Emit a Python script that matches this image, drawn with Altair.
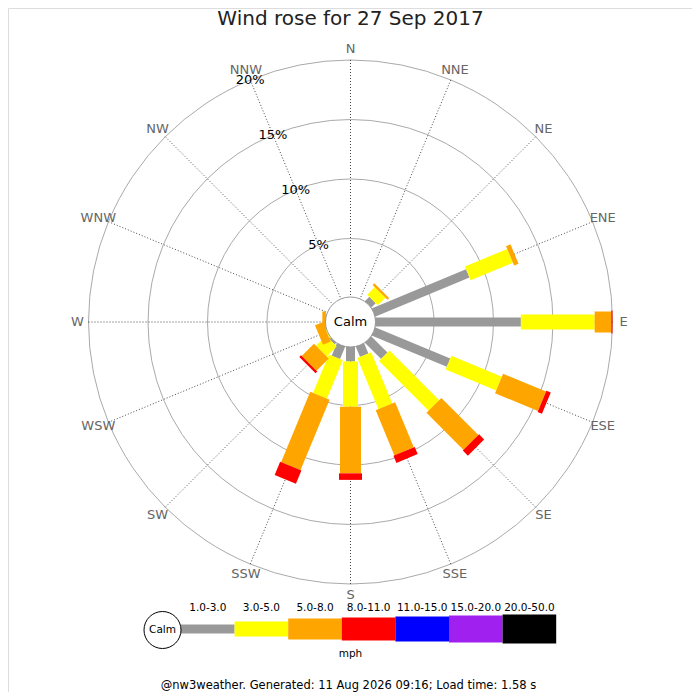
import math

import altair as alt
import pandas as pd


DIRECTIONS = ["N", "NNE", "NE", "ENE", "E", "ESE", "SE", "SSE", "S", "SSW", "SW", "WSW", "W", "WNW", "NW", "NNW"]
SPEED_BANDS = ["1.0-3.0", "3.0-5.0", "5.0-8.0", "8.0-11.0", "11.0-15.0", "15.0-20.0", "20.0-50.0"]

# share of the day (%) blowing from each direction, per speed band (mph)
PCT_1_3 = [0, 0, 0.6, 8.65, 12.3, 6.9, 2.0, 1.0, 1.3, 1.2, 0.25, 0, 0, 0, 0, 0]
PCT_3_5 = [0, 0, 0.9, 3.85, 6.2, 4.6, 5.9, 4.65, 3.8, 3.5, 1.2, 0.15, 0.05, 0, 0, 0]
PCT_5_8 = [0, 0, 0.2, 0.4, 1.4, 3.9, 4.4, 4.1, 5.6, 6.4, 1.45, 0.7, 0.3, 0, 0, 0]
PCT_8_11 = [0, 0, 0, 0, 0.1, 0.4, 0.6, 0.65, 0.55, 1.2, 0.2, 0, 0, 0, 0, 0]
PCT_11_15 = [0, 0, 0, 0, 0, 0, 0, 0, 0, 0, 0, 0, 0, 0, 0, 0]
PCT_15_20 = [0, 0, 0, 0, 0, 0, 0, 0, 0, 0, 0, 0, 0, 0, 0, 0]
PCT_20_50 = [0, 0, 0, 0, 0, 0, 0, 0, 0, 0, 0, 0, 0, 0, 0, 0]
BAND_VALUES = [PCT_1_3, PCT_3_5, PCT_5_8, PCT_8_11, PCT_11_15, PCT_15_20, PCT_20_50]

RINGS = [5, 10, 15, 20]
RING_LABELS = ["5%", "10%", "15%", "20%"]

TITLE = "Wind rose for 27 Sep 2017"
FOOTER = "@nw3weather. Generated: 11 Aug 2026 09:16; Load time: 1.58 s"

BAND_COLORS = ["#999999", "#ffff00", "#ffa500", "#ff0000", "#0000ff", "#a020f0", "#000000"]
BAND_WIDTHS = dict(zip(SPEED_BANDS, [9, 15, 21, 23, 25, 27, 29]))
FONT = "DejaVu Sans"

# layout: one percent of frequency is PX px of radius, the calm disc sits in the middle
PX = 11.9
CALM = 24 / PX
SIZE = 684
CX, CY = 350.5 - 8, 322 - 8


def px_x(v):
    return (v - 8 - CX) / PX


def px_y(v):
    return (CY - (v - 8)) / PX


def polar(r, angle):
    a = math.radians(angle)
    return r * math.sin(a), r * math.cos(a)


segments = []
for i, direction in enumerate(DIRECTIONS):
    total = 0.0
    for band, values in zip(SPEED_BANDS, BAND_VALUES):
        if values[i] <= 0:
            continue
        x, y = polar(CALM + total, 22.5 * i)
        total += values[i]
        x2, y2 = polar(CALM + total, 22.5 * i)
        segments.append({"direction": direction, "band": band, "pct": values[i], "x": x, "y": y, "x2": x2, "y2": y2})
segments = pd.DataFrame(segments)
segments["w"] = segments["band"].map(BAND_WIDTHS)

spokes = []
labels = []
for i, direction in enumerate(DIRECTIONS):
    x, y = polar(CALM, 22.5 * i)
    x2, y2 = polar(CALM + RINGS[-1], 22.5 * i)
    spokes.append({"x": x, "y": y, "x2": x2, "y2": y2})
    lx, ly = polar(273 / PX, 22.5 * i)
    labels.append({"text": direction, "x": lx, "y": ly})
spokes = pd.DataFrame(spokes)
labels = pd.DataFrame(labels)

rings = pd.DataFrame({"r": [CALM + p for p in RINGS], "x": 0.0, "y": 0.0})
ring_text = pd.DataFrame(
    [dict(zip(("x", "y"), polar(CALM + p, 337.5)), text=t) for p, t in zip(RINGS, RING_LABELS)]
)

step = 53.6 / PX
legend = pd.DataFrame(
    {
        "band": SPEED_BANDS,
        "x": [px_x(181) + k * step for k in range(len(SPEED_BANDS))],
        "x2": [px_x(181) + (k + 1) * step for k in range(len(SPEED_BANDS))],
        "y": px_y(629),
        "ty": px_y(607.5),
    }
)
legend["tx"] = (legend["x"] + legend["x2"]) / 2
legend["w"] = legend["band"].map(BAND_WIDTHS)

x_scale = alt.Scale(domain=[-CX / PX, (SIZE - CX) / PX], nice=False, zero=False)
y_scale = alt.Scale(domain=[(CY - SIZE) / PX, CY / PX], nice=False, zero=False)
X = alt.X("x:Q", scale=x_scale, axis=None)
Y = alt.Y("y:Q", scale=y_scale, axis=None)
size_scale = alt.Scale(type="pow", exponent=2, domain=[0, 30], range=[0, (60 * PX) ** 2], zero=True, nice=False)
band_color = alt.Color("band:N", scale=alt.Scale(domain=SPEED_BANDS, range=BAND_COLORS), legend=None)
band_width = alt.StrokeWidth("w:Q", scale=None, legend=None)

ring_layer = alt.Chart(rings).mark_point(shape="circle", filled=False, stroke="#aaaaaa", strokeWidth=1, opacity=1).encode(
    x=X, y=Y, size=alt.Size("r:Q", scale=size_scale, legend=None)
)
spoke_layer = alt.Chart(spokes).mark_rule(color="#333333", strokeWidth=0.9, strokeDash=[1, 2]).encode(
    x=X, y=Y, x2="x2:Q", y2="y2:Q"
)
bar_layer = alt.Chart(segments).mark_rule(strokeCap="butt").encode(
    x=X, y=Y, x2="x2:Q", y2="y2:Q", color=band_color, strokeWidth=band_width,
    tooltip=["direction:N", "band:N", alt.Tooltip("pct:Q", format=".2f")],
)
calm_layer = alt.Chart(pd.DataFrame({"r": [25 / PX], "x": [0.0], "y": [0.0]})).mark_point(
    shape="circle", filled=True, fill="white", stroke="#999999", strokeWidth=1, opacity=1
).encode(x=X, y=Y, size=alt.Size("r:Q", scale=size_scale, legend=None))
calm_text = alt.Chart(pd.DataFrame({"x": [0.0], "y": [0.0], "text": ["Calm"]})).mark_text(
    font=FONT, fontSize=13, color="#000000", baseline="middle"
).encode(x=X, y=Y, text="text:N")
dir_layer = alt.Chart(labels).mark_text(font=FONT, fontSize=13, color="#666666", baseline="middle").encode(
    x=X, y=Y, text="text:N"
)
pct_layer = alt.Chart(ring_text).mark_text(font=FONT, fontSize=13, color="#000000", baseline="middle").encode(
    x=X, y=Y, text="text:N"
)

legend_bars = alt.Chart(legend).mark_rule(strokeCap="butt").encode(
    x=X, y=Y, x2="x2:Q", y2="y:Q", color=band_color, strokeWidth=band_width
)
legend_text = alt.Chart(legend).mark_text(font=FONT, fontSize=10.5, color="#000000", baseline="middle").encode(
    x=alt.X("tx:Q", scale=x_scale, axis=None), y=alt.Y("ty:Q", scale=y_scale, axis=None), text="band:N"
)
legend_calm = alt.Chart(pd.DataFrame({"r": [18.5 / PX], "x": [px_x(162.5)], "y": [px_y(630)]})).mark_point(
    shape="circle", filled=True, fill="white", stroke="#000000", strokeWidth=1, opacity=1
).encode(x=X, y=Y, size=alt.Size("r:Q", scale=size_scale, legend=None))
legend_calm_text = alt.Chart(pd.DataFrame({"x": [px_x(162.5)], "y": [px_y(630)], "text": ["Calm"]})).mark_text(
    font=FONT, fontSize=10.5, color="#000000", baseline="middle"
).encode(x=X, y=Y, text="text:N")
unit_text = alt.Chart(pd.DataFrame({"x": [px_x(350.5)], "y": [px_y(653.5)], "text": ["mph"]})).mark_text(
    font=FONT, fontSize=10.5, color="#000000", baseline="middle"
).encode(x=X, y=Y, text="text:N")

title_layer = alt.Chart(pd.DataFrame({"text": [TITLE]})).mark_text(
    font=FONT, fontSize=20, color="#222222", baseline="alphabetic"
).encode(x=alt.value(CX), y=alt.value(17), text="text:N")
footer_layer = alt.Chart(pd.DataFrame({"text": [FOOTER]})).mark_text(
    font=FONT, fontSize=11.5, color="#000000", baseline="alphabetic"
).encode(x=alt.value(CX - 2), y=alt.value(681), text="text:N")

chart = (
    alt.layer(
        ring_layer, spoke_layer, bar_layer, calm_layer, calm_text, dir_layer, pct_layer,
        legend_bars, legend_calm, legend_calm_text, legend_text, unit_text, title_layer, footer_layer,
    )
    .properties(width=SIZE, height=SIZE, autosize=alt.AutoSizeParams(type="none"), padding=0)
    .configure_view(stroke=None)
    .configure(background="white")
)

chart.save("out.html", embed_options={"renderer": "svg", "actions": False})
